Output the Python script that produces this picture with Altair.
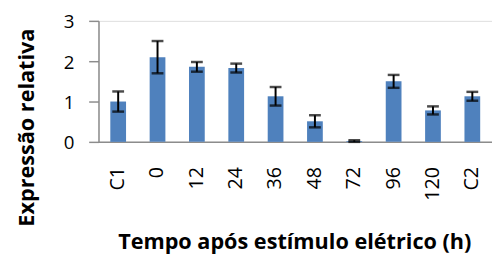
import altair as alt
import pandas as pd

categories = ["C1", "0", "12", "24", "36", "48", "72", "96", "120", "C2"]
values = [1.0, 2.1, 1.86, 1.83, 1.13, 0.51, 0.02, 1.5, 0.78, 1.13]
errors = [0.25, 0.4, 0.12, 0.11, 0.23, 0.15, 0.02, 0.16, 0.1, 0.11]

df = pd.DataFrame({"cat": categories, "val": values, "err": errors})
df["lo"] = df["val"] - df["err"]
df["hi"] = df["val"] + df["err"]

FONT = "Open Sans"

x = alt.X("cat:N", sort=categories, scale=alt.Scale(paddingInner=0.6, paddingOuter=0.3),
          axis=alt.Axis(title="Tempo após estímulo elétrico (h)", labelAngle=270,
                        labelAlign="right", labelBaseline="middle", labelPadding=25,
                        labelFontSize=20, labelFont=FONT, labelColor="black",
                        ticks=False, domainColor="#8c8c8c", domainWidth=1.5,
                        titleFont=FONT, titleFontSize=22, titleFontWeight="bold",
                        titleColor="black", titleX=199, titleY=101,
                        titleBaseline="middle", titleAlign="center"))
y_axis = alt.Axis(title="Expressão relativa", values=[0, 1, 2, 3], grid=False,
                  tickSize=10, tickColor="#8c8c8c", domainColor="#8c8c8c",
                  domainWidth=1.5, tickWidth=1.5,
                  labelFontSize=19, labelFont=FONT, labelColor="black", labelPadding=15,
                  labelOffset=1,
                  titleFont=FONT, titleFontSize=22, titleFontWeight="bold",
                  titleColor="black", titleAngle=270, titleX=-73, titleY=108,
                  titleAlign="center", titleBaseline="middle")
y_scale = alt.Scale(domain=[0, 3], nice=False)

base = alt.Chart(df)
bars = base.mark_bar(color="#4f81bd", size=16).encode(
    x=x, y=alt.Y("val:Q", scale=y_scale, axis=y_axis))
rule = base.mark_rule(color="black", strokeWidth=2).encode(
    x=alt.X("cat:N", sort=categories), y="lo:Q", y2="hi:Q")
cap_lo = base.mark_tick(color="black", size=12, thickness=2.5).encode(
    x=alt.X("cat:N", sort=categories), y="lo:Q")
cap_hi = base.mark_tick(color="black", size=12, thickness=2.5).encode(
    x=alt.X("cat:N", sort=categories), y="hi:Q")

chart = alt.layer(bars, rule, cap_lo, cap_hi).properties(
    width=400, height=123,
    autosize=alt.AutoSizeParams(type="none"),
    padding={"left": 92, "top": 11, "right": 0, "bottom": 118},
).configure_view(stroke=None).configure(background="white")

chart.save("out.html", embed_options={"renderer": "svg", "actions": False})
